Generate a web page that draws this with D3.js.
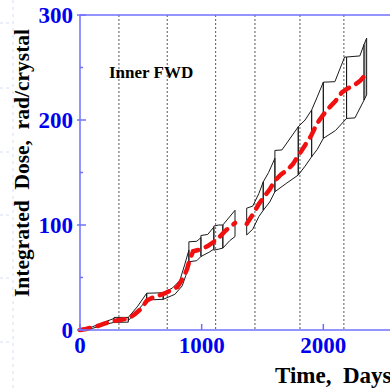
<!DOCTYPE html>
<html>
<head>
<meta charset="utf-8">
<script src="https://cdn.jsdelivr.net/npm/d3@7"></script>
<style>
  html, body { margin: 0; padding: 0; background: #fff; }
  svg { display: block; }
</style>
</head>
<body>
<div id="chart"></div>
<script>
// ── Data ──
// Central dose estimate (red dashed); null = gap in the record
const centerDays = [0, 50, 100, 150, 200, 250, 300, 350, 400, 450, 500, 550, 600, 650, 700, 750, 800, 850, 880, 904, 930, 1000, 1050, 1100, 1150, 1200, 1275,
  1320,
  1370, 1420, 1470, 1520, 1560, 1600, 1650, 1700, 1750, 1800, 1850, 1900, 1950, 2000, 2050, 2100, 2150, 2200, 2250, 2300, 2330, 2360];
const centerDose = [0, 1, 2.5, 4, 6, 8, 9, 10, 11, 15, 20, 28, 31, 33, 35, 38, 41, 50, 58, 68, 75, 77, 80, 84, 89, 95, 102,
  null,
  101, 110, 120, 128, 134, 142, 148, 152, 158, 167, 176, 185, 197, 205, 212, 218, 226, 230, 233, 237, 241, 246];

// Uncertainty envelope: one band per running period, [day, dose] pairs
const bandUpper = [
  [[0, 0], [100, 3], [200, 7.5], [280, 11]],
  [[280, 12], [397, 12]],
  [[397, 12], [470, 22], [548, 35]],
  [[548, 35], [684, 35.5]],
  [[684, 35.5], [760, 40], [820, 47], [860, 62], [895, 76]],
  [[895, 84], [960, 84.5], [994, 88]],
  [[994, 90], [1050, 91], [1100, 98]],
  [[1100, 99], [1140, 100], [1174, 100]],
  [[1174, 100], [1274, 114]],
  [[1370, 116], [1420, 118], [1470, 130], [1506, 141]],
  [[1506, 141], [1550, 150], [1602, 163.5]],
  [[1602, 171], [1660, 171.5], [1794, 193.5]],
  [[1794, 193.5], [1850, 200], [1904, 209.5]],
  [[1904, 209.5], [1950, 222], [2000, 236]],
  [[2000, 236], [2095, 236.5], [2175, 260], [2191, 260]],
  [[2191, 260], [2300, 261], [2335, 272]],
  [[2335, 272], [2356, 278]]
];
const bandLower = [
  [[0, 0], [100, 1.5], [200, 5], [280, 7.3]],
  [[280, 7.3], [397, 7.5]],
  [[397, 9], [470, 18], [548, 28.6]],
  [[548, 28.6], [684, 29.2]],
  [[684, 29.2], [780, 34], [840, 42], [870, 52], [895, 64]],
  [[895, 65], [960, 66], [994, 70]],
  [[994, 70], [1060, 74], [1100, 77]],
  [[1100, 76], [1140, 77], [1174, 78]],
  [[1174, 78], [1230, 85], [1274, 89]],
  [[1370, 90.5], [1420, 96], [1470, 108], [1506, 114]],
  [[1506, 114], [1560, 122], [1602, 131.7]],
  [[1602, 131.7], [1700, 140], [1794, 147.6]],
  [[1794, 147.6], [1850, 156], [1904, 165]],
  [[1904, 165], [1950, 172], [2000, 182.5]],
  [[2000, 182.5], [2100, 190], [2191, 201.5]],
  [[2191, 201.5], [2260, 202], [2335, 219]],
  [[2335, 219], [2356, 224]]
];

// Dotted markers (year boundaries), days
const markerDays = [320, 717, 1115, 1438, 1808, 2169];

const xTicks = [0, 1000, 2000];
const yTicks = [0, 100, 200, 300];
const yMinorTicks = [50, 150, 250];

// ── Layout ──
const W = 390, H = 390;
const mLeft = 80, mTop = 15, mBottom = 330, mRight = 390;
const AXIS_COLOR = "#7070ff";
const LABEL_COLOR = "#0000f0";
const SERIF = "'Liberation Serif', 'Times New Roman', serif";

const svg = d3.select("#chart").append("svg")
  .attr("width", W).attr("height", H)
  .style("background", "#fff");

const x = d3.scaleLinear().domain([0, 2548]).range([mLeft, mRight]);
const y = d3.scaleLinear().domain([0, 300]).range([mBottom, mTop]);

// ── Faint scan marks on the left margin ──
const faint = svg.append("g").attr("stroke", "#d6def4").attr("stroke-width", 1);
faint.append("line")
  .attr("x1", 13).attr("x2", 13).attr("y1", 0).attr("y2", H)
  .attr("stroke-dasharray", "3,4");
for (const yy of [23, 88, 152, 215, 278, 342]) {
  faint.append("line")
    .attr("x1", 0).attr("x2", 11).attr("y1", yy).attr("y2", yy)
    .attr("stroke-dasharray", "3,3");
}

// ── Dotted vertical markers ──
svg.append("g")
  .selectAll("line")
  .data(markerDays)
  .join("line")
  .attr("x1", d => x(d)).attr("x2", d => x(d))
  .attr("y1", mTop).attr("y2", mBottom)
  .attr("stroke", "#555")
  .attr("stroke-width", 1)
  .attr("stroke-dasharray", "2,2");

// ── Envelope bands (closed outline: upper forward, lower back) ──
const bandG = svg.append("g");
bandUpper.forEach((up, i) => {
  const pts = up.concat(bandLower[i].slice().reverse());
  const path = d3.line().x(d => x(d[0])).y(d => y(d[1]))(pts) + "Z";
  bandG.append("path")
    .attr("d", path)
    .attr("fill", i === bandUpper.length - 1 ? "#bbb" : "none")
    .attr("stroke", "#1a1a1a")
    .attr("stroke-width", 1)
    .attr("stroke-linejoin", "round");
});

// ── Central estimate (red dashed) ──
const centerPts = centerDays.map((d, i) => [d, centerDose[i]]);
svg.append("path")
  .attr("d", d3.line()
    .defined(d => d[1] != null)
    .x(d => x(d[0])).y(d => y(d[1]))(centerPts))
  .attr("fill", "none")
  .attr("stroke", "#f01010")
  .attr("stroke-width", 4.5)
  .attr("stroke-linecap", "round")
  .attr("stroke-dasharray", "10,8");

// ── Axes ──
const axisG = svg.append("g").attr("stroke", AXIS_COLOR).attr("stroke-width", 1.5);
axisG.append("line").attr("x1", mLeft).attr("x2", mLeft).attr("y1", mTop).attr("y2", mBottom);
axisG.append("line").attr("x1", mLeft).attr("x2", mRight).attr("y1", mBottom).attr("y2", mBottom);
axisG.append("line").attr("x1", mLeft).attr("x2", mRight).attr("y1", mTop).attr("y2", mTop);

// y ticks: major across the axis, minor inside
axisG.selectAll(".ymaj").data(yTicks).join("line")
  .attr("x1", mLeft - 3).attr("x2", mLeft + 6)
  .attr("y1", d => y(d)).attr("y2", d => y(d));
axisG.selectAll(".ymin").data(yMinorTicks).join("line")
  .attr("x1", mLeft).attr("x2", mLeft + 3)
  .attr("y1", d => y(d)).attr("y2", d => y(d));
// x ticks inside
axisG.selectAll(".xmaj").data(xTicks).join("line")
  .attr("x1", d => x(d)).attr("x2", d => x(d))
  .attr("y1", mBottom).attr("y2", mBottom - 6);

// tick labels
svg.append("g").selectAll("text").data(yTicks).join("text")
  .attr("x", mLeft - 7).attr("y", d => y(d) + 8)
  .attr("text-anchor", "end")
  .attr("font-family", SERIF).attr("font-weight", "bold")
  .attr("font-size", 23).attr("fill", LABEL_COLOR)
  .text(d => d);
svg.append("g").selectAll("text").data(xTicks).join("text")
  .attr("x", d => x(d)).attr("y", 353)
  .attr("text-anchor", "middle")
  .attr("font-family", SERIF).attr("font-weight", "bold")
  .attr("font-size", 23).attr("fill", LABEL_COLOR)
  .text(d => d);

// ── Titles ──
svg.append("text")
  .attr("transform", "translate(29,163) rotate(-90)")
  .attr("text-anchor", "middle")
  .attr("font-family", SERIF).attr("font-weight", "bold")
  .attr("font-size", 21.5).attr("fill", "#000")
  .attr("xml:space", "preserve")
  .text("Integrated  Dose,  rad/crystal");

svg.append("text")
  .attr("x", 275).attr("y", 383)
  .attr("font-family", SERIF).attr("font-weight", "bold")
  .attr("font-size", 23).attr("fill", "#000")
  .attr("xml:space", "preserve")
  .text("Time,  Days");

svg.append("text")
  .attr("x", 109).attr("y", 78)
  .attr("font-family", SERIF).attr("font-weight", "bold")
  .attr("font-size", 17).attr("fill", "#000")
  .text("Inner FWD");
</script>
</body>
</html>
